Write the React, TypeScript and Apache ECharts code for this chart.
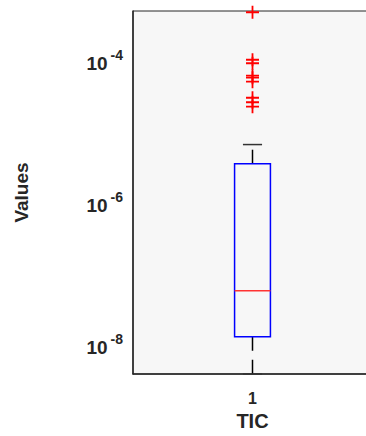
import React, { useEffect, useRef } from "react";
import * as echarts from "echarts";

const categories = ["1"];
// [lower whisker, Q1, median, Q3, upper whisker]
const boxStats = [3.9e-9, 1.3e-8, 5.8e-8, 3.55e-6, 6.6e-6];
const outliers = [4.8e-4, 1.03e-4, 9.2e-5, 6.15e-5, 5.77e-5, 5.06e-5, 3.01e-5, 2.6e-5, 2.25e-5];
const yMin = 3.9e-9;
const yMax = 5.0e-4;
const xLabel = "TIC";
const yLabel = "Values";

const FONT = "'Liberation Sans', Arial, sans-serif";
const TXT = "#262626";

export default function App() {
  const ref = useRef<HTMLDivElement>(null);
  useEffect(() => {
    document.body.style.margin = "0";
    const chart = echarts.init(ref.current!, null, { renderer: "svg" });
    const fmt = (v: number) => {
      const l = Math.log10(v);
      const e = Math.round(l);
      if (Math.abs(l - e) > 1e-6) return "";
      return `{b|10}{s|${e < 0 ? "-" : ""}${Math.abs(e)}}`;
    };
    chart.setOption({
      animation: false,
      backgroundColor: "#ffffff",
      grid: {
        left: 133,
        right: 1,
        top: 11,
        bottom: 62,
        show: true,
        backgroundColor: "#f7f7f7",
        borderColor: TXT,
        borderWidth: 1,
      },
      xAxis: {
        type: "category",
        data: categories,
        boundaryGap: true,
        name: xLabel,
        nameLocation: "middle",
        nameGap: 34,
        nameTextStyle: { fontFamily: FONT, fontWeight: "bold", fontSize: 20, color: TXT },
        axisLine: { lineStyle: { color: TXT, width: 1.5 } },
        axisTick: { alignWithLabel: true, inside: true, length: 4, lineStyle: { color: TXT } },
        axisLabel: { fontFamily: FONT, fontWeight: "bold", fontSize: 16, color: TXT, margin: 16 },
        splitLine: { show: false },
      },
      yAxis: {
        type: "log",
        logBase: 100,
        min: yMin,
        max: yMax,
        name: yLabel,
        nameLocation: "middle",
        nameRotate: 90,
        nameGap: 102,
        nameTextStyle: { fontFamily: FONT, fontWeight: "bold", fontSize: 19, color: TXT },
        axisLine: { show: true, lineStyle: { color: TXT, width: 1.5 } },
        axisTick: { inside: true, length: 4, lineStyle: { color: TXT } },
        splitLine: { show: false },
        minorTick: { show: false },
        axisLabel: {
          showMinLabel: false,
          showMaxLabel: false,
          margin: 10,
          fontFamily: FONT,
          fontWeight: "bold",
          fontSize: 19,
          color: TXT,
          formatter: fmt,
          rich: {
            b: { fontFamily: FONT, fontWeight: "bold", fontSize: 19, lineHeight: 14, verticalAlign: "bottom", color: TXT },
            s: { fontFamily: FONT, fontWeight: "bold", fontSize: 14, lineHeight: 25, verticalAlign: "top", color: TXT, padding: [0, 0, 0, 3] },
          },
        },
      },
      series: [
        {
          type: "custom",
          data: [[0, ...boxStats]],
          renderItem: (params: any, api: any) => {
            const x = api.value(0);
            const band = api.size([1, 0])[0];
            const half = band * 0.075;
            const capHalf = band * 0.04;
            const p = [1, 2, 3, 4, 5].map((i) => api.coord([x, api.value(i)]));
            const cx = p[0][0];
            const [lw, q1, med, q3, uw] = p.map((c: number[]) => c[1]);
            const dash = { stroke: "#000", lineWidth: 1.5, lineDash: [14, 9] };
            return {
              type: "group",
              children: [
                { type: "line", shape: { x1: cx, y1: q3, x2: cx, y2: uw }, style: dash },
                { type: "line", shape: { x1: cx, y1: q1, x2: cx, y2: lw }, style: dash },
                { type: "line", shape: { x1: cx - capHalf, y1: uw, x2: cx + capHalf, y2: uw }, style: { stroke: "#333", lineWidth: 1.5 } },
                { type: "line", shape: { x1: cx - capHalf, y1: lw, x2: cx + capHalf, y2: lw }, style: { stroke: "#333", lineWidth: 1.5 } },
                { type: "rect", shape: { x: cx - half, y: q3, width: half * 2, height: q1 - q3 }, style: { fill: "none", stroke: "#0000ff", lineWidth: 1.5 } },
                { type: "line", shape: { x1: cx - half, y1: med, x2: cx + half, y2: med }, style: { stroke: "#ff3333", lineWidth: 1.5 } },
              ],
            };
          },
          z: 2,
        },
        {
          type: "scatter",
          data: outliers.map((v) => [0, v]),
          symbol: "path://M0,5.6H13V7.4H0Z M5.6,0H7.4V13H5.6Z",
          symbolSize: [13, 13],
          itemStyle: { color: "#ff0000", opacity: 1 },
          z: 3,
        },
      ],
    });
    return () => chart.dispose();
  }, []);
  return (
    <div style={{ width: 366, height: 436, overflow: "hidden", position: "relative" }}>
      <div ref={ref} style={{ width: 373, height: 436 }} />
    </div>
  );
}
